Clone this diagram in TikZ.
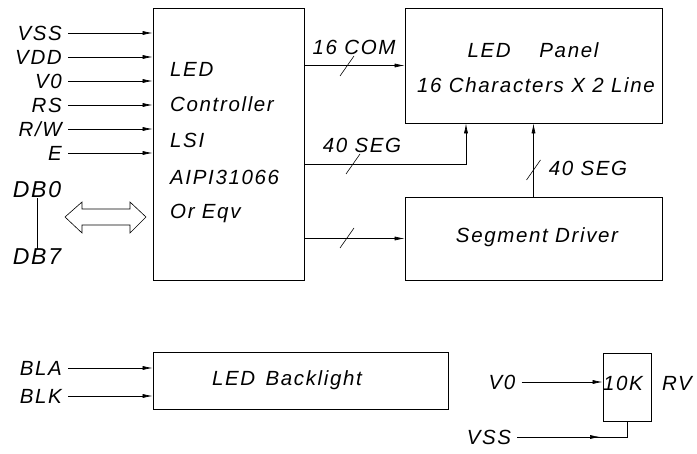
\documentclass[tikz,border=0pt]{standalone}
\usepackage{fontspec}
\newfontfamily\cadfont{Liberation Sans}[LetterSpace=8]
\usetikzlibrary{arrows.meta,decorations.markings}

\tikzset{
  txt/.style={font=\cadfont\itshape\fontsize{20.5}{24}\selectfont, inner sep=0pt},
  big/.style={font=\cadfont\itshape\fontsize{23}{27}\selectfont, inner sep=0pt},
  box/.style={draw, line width=0.8pt, inner sep=0pt},
  sig/.style={line width=0.6pt, -{Latex[length=10pt,width=4pt]}},
  wire/.style={line width=0.6pt},
}

\begin{document}
\begin{tikzpicture}[x=1pt,y=-1pt]
\useasboundingbox (0,0) rectangle (697,454);

% blocks
\node [box, minimum width=151pt, minimum height=272pt] (ctrl) at (228.5,144) {};
\node [box, minimum width=257pt, minimum height=115pt] (panel) at (533.5,65.5) {};
\node [box, minimum width=257pt, minimum height=83pt] (segdrv) at (533.5,238.5) {};
\node [box, minimum width=295pt, minimum height=57pt] (blight) at (300.5,380.5) {};
\node [box, minimum width=48pt, minimum height=68pt] (pot) at (627,387) {};

% texts in blocks
\node [txt, anchor=west] (c1) at (170,69)  {LED};
\node [txt, anchor=west] (c2) at (170,104) {Controller};
\node [txt, anchor=west] (c3) at (170,140) {LSI};
\node [txt, anchor=west] (c4) at (170,177) {AIPI31066};
\node [txt, anchor=west] (c5) at (170,213) {Or Eqv};

\node [txt] (p1) at (533,50) {LED\hspace{1.4em}Panel};
\node [txt] (p2) at (536,85) {16 Characters X 2 Line};
\node [txt] (sd) at (537,237) {Segment Driver};
\node [txt] (bl) at (287,380) {LED\hspace{0.5em}Backlight};
\node [txt] (tenk) at (623,383) {10K};
\node [txt] (rv) at (677,383) {RV};

% inputs of the controller
\foreach \n/\t/\y in {vss/VSS/33, vdd/VDD/57, vo/V0/81, rs/RS/105, rw/{R/W}/129, e/E/153}
{
    \node [txt, anchor=east] (\n) at (62,\y) {\t};
    \draw [sig] ([xshift=6pt]\n.east) -- (\n.east -| ctrl.west);
}

% data bus
\node [big] (db0) at (37,190) {DB0};
\node [big] (db7) at (37,257) {DB7};
\draw [wire] (db0.south) -- (db7.north);
\draw [wire] (65,217) -- (82,202) -- (82,209) -- (130,209) -- (130,202) -- (146,217)
    -- (130,233) -- (130,225) -- (82,225) -- (82,233) -- cycle;

% controller to panel and driver
\coordinate (segturn) at (466,164);
\draw [sig] (ctrl.east |- panel.west) -- (panel.west);
\draw [sig] (ctrl.east |- segturn) -- (segturn) -- (segturn |- panel.south);
\draw [sig] (ctrl.east |- segdrv.west) -- (segdrv.west);
\draw [sig] (segdrv.north) -- (panel.south);

\foreach \x/\y in {347/66, 353/164, 347/238, 533.5/170}
    \draw [wire] (\x,\y) ++(-7,10) -- ++(14,-20);

\node [txt] (lcom) at (354,47) {16 COM};
\node [txt] (lseg) at (362,145) {40 SEG};
\node [txt] (lseg2) at (588,168) {40 SEG};

% backlight
\node [txt, anchor=east] (bla) at (62,368) {BLA};
\node [txt, anchor=east] (blk) at (62,396) {BLK};
\draw [sig] ([xshift=6pt]bla.east) -- (bla.east -| blight.west);
\draw [sig] ([xshift=6pt]blk.east) -- (blk.east -| blight.west);

% potentiometer
\node [txt] (vob) at (502,382) {V0};
\node [txt] (vssb) at (489,437) {VSS};
\draw [sig] ([xshift=6pt]vob.east) -- (vob.east -| pot.west);
\draw [wire, postaction={decorate}, decoration={markings,
    mark=at position 0.66 with {\arrow{Latex[length=10pt,width=4pt]}}}]
    ([xshift=6pt]vssb.east) -- (vssb.east -| pot.south) -- (pot.south);

\end{tikzpicture}
\end{document}
